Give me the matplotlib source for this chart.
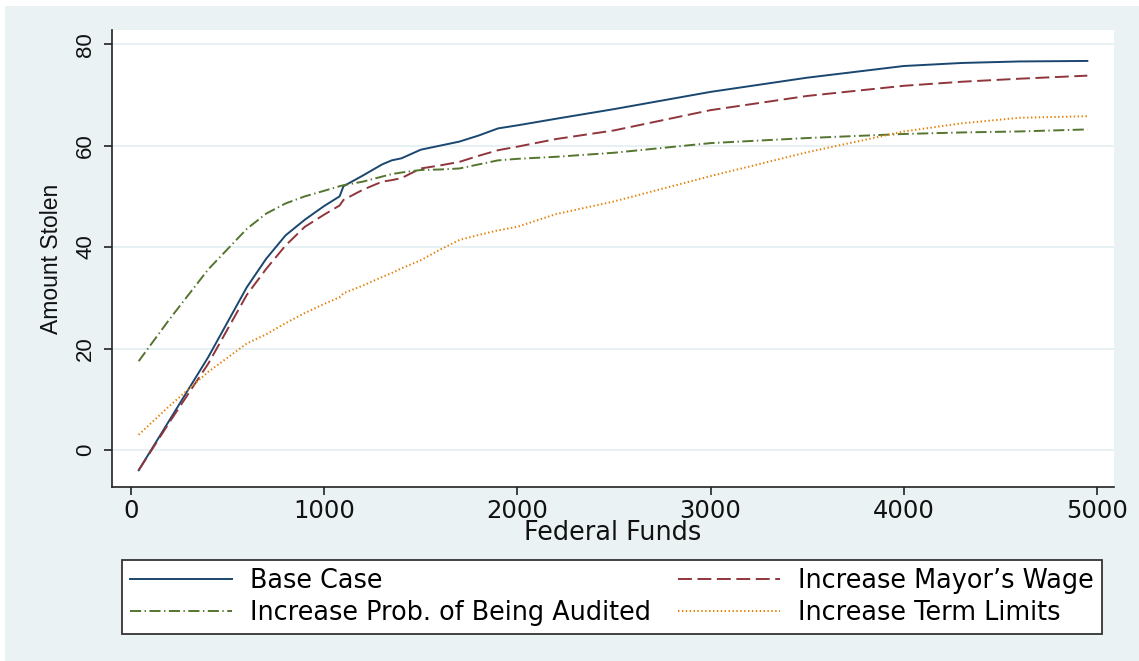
import matplotlib
matplotlib.use("Agg")
import matplotlib.pyplot as plt
from matplotlib.patches import Rectangle

# ---------------- data ----------------
federal_funds = [40, 200, 400, 600, 700, 800, 900, 1000, 1080, 1100, 1200, 1300, 1350,
                 1400, 1500, 1600, 1700, 1800, 1900, 2000, 2200, 2500, 3000, 3500,
                 4000, 4300, 4600, 4950]
base_case = [-4.0, 5.9, 18.3, 32.1, 37.7, 42.3, 45.4, 48.1, 50.0, 52.0, 54.1, 56.3, 57.1,
             57.5, 59.2, 60.0, 60.8, 62.0, 63.4, 64.0, 65.3, 67.2, 70.6, 73.4,
             75.7, 76.3, 76.6, 76.7]
mayor_wage = [-4.0, 5.5, 17.0, 30.6, 35.7, 40.3, 44.0, 46.4, 48.2, 49.3, 51.3, 52.9, 53.2,
              53.6, 55.5, 56.1, 56.8, 58.0, 59.1, 59.8, 61.3, 63.0, 67.0, 69.8,
              71.8, 72.6, 73.2, 73.8]
prob_audited = [17.5, 25.8, 35.6, 43.6, 46.6, 48.6, 50.0, 51.1, 52.0, 52.2, 52.9, 53.9, 54.4,
                54.7, 55.2, 55.3, 55.5, 56.3, 57.1, 57.4, 57.8, 58.6, 60.5, 61.5,
                62.3, 62.6, 62.8, 63.2]
term_limits = [3.0, 8.7, 15.4, 21.0, 22.8, 25.0, 27.0, 28.8, 30.1, 30.9, 32.4, 34.1, 34.9,
               35.8, 37.4, 39.5, 41.4, 42.4, 43.3, 44.0, 46.5, 49.0, 54.0, 58.7,
               62.8, 64.4, 65.5, 65.8]
series_labels = ["Base Case", "Increase Mayor\u2019s Wage",
                 "Increase Prob. of Being Audited", "Increase Term Limits"]
x_ticks = [0, 1000, 2000, 3000, 4000, 5000]
y_ticks = [0, 20, 40, 60, 80]

# ---------------- style ----------------
plt.rcParams['lines.scale_dashes'] = False
W, H, DPI = 1139, 661, 100
panel = "#EAF2F3"
navy, maroon, green, orange = "#1a476f", "#90353b", "#55752f", "#e37e00"
hfont = "DejaVu Sans"
vfont = "Liberation Sans"

fig = plt.figure(figsize=(W / DPI, H / DPI), dpi=DPI)
fig.patch.set_facecolor("white")
fig.patches.append(Rectangle((5 / W, 0), 1 - 5 / W, 1 - 6 / H, transform=fig.transFigure,
                             facecolor=panel, edgecolor="none", zorder=-10))

L, R, T, B = 112, 1114, 30, 487
ax = fig.add_axes([L / W, 1 - B / H, (R - L) / W, (B - T) / H])
ax.set_facecolor("white")

lw = 1.4
l1, = ax.plot(federal_funds, base_case, color=navy, lw=lw, linestyle="-")
l2, = ax.plot(federal_funds, mayor_wage, color=maroon, lw=lw, linestyle=(0, (10, 4)))
l3, = ax.plot(federal_funds, prob_audited, color=green, lw=lw, linestyle=(0, (8, 2.5, 1, 2.5)))
l4, = ax.plot(federal_funds, term_limits, color=orange, lw=lw, linestyle=(0, (1, 1.8)))

ax.set_xlim(-98, 5088)
ax.set_ylim(-7.3, 82.8)
ax.set_xticks(x_ticks)
ax.set_yticks(y_ticks)
ax.set_xticklabels([str(v) for v in x_ticks], fontsize=17.5, family=hfont)
ax.set_yticklabels([str(v) for v in y_ticks], fontsize=16, family=vfont,
                   rotation=90, va="center")
ax.tick_params(axis="x", length=6, width=1.1, pad=3, colors="#111111")
ax.tick_params(axis="y", length=5.5, width=1.1, pad=6, colors="#111111")

ax.grid(axis="y", color="#E3EEF1", lw=1.2)
ax.set_axisbelow(True)
for s in ["top", "right"]:
    ax.spines[s].set_visible(False)
for s in ["left", "bottom"]:
    ax.spines[s].set_color("#222222")
    ax.spines[s].set_linewidth(1.2)

ax.set_xlabel("Federal Funds", fontsize=18.4, family=hfont, color="#111111")
ax.xaxis.label.set_va("center")
ax.xaxis.set_label_coords(0.5, (B - 533) / (B - T))
ax.set_ylabel("Amount Stolen", fontsize=16.5, family=vfont, color="#111111")
ax.yaxis.label.set_va("center")
ax.yaxis.set_label_coords((52 - L) / (R - L), 0.5)

leg = fig.legend([l1, l3, l2, l4],
                 [series_labels[0], series_labels[2], series_labels[1], series_labels[3]],
                 loc="upper left", bbox_to_anchor=(122 / W, 1 - 560 / H),
                 ncol=2, prop={"family": hfont, "size": 18.4},
                 handlelength=4.0, handletextpad=0.7, columnspacing=1.05,
                 labelspacing=0.21, borderpad=0.32, borderaxespad=0,
                 frameon=True, fancybox=False)
fr = leg.get_frame()
fr.set_edgecolor("#333333")
fr.set_linewidth(1.3)
fr.set_facecolor("white")
fr.set_alpha(1)

fig.savefig("out.png", dpi=DPI, facecolor=fig.get_facecolor())
